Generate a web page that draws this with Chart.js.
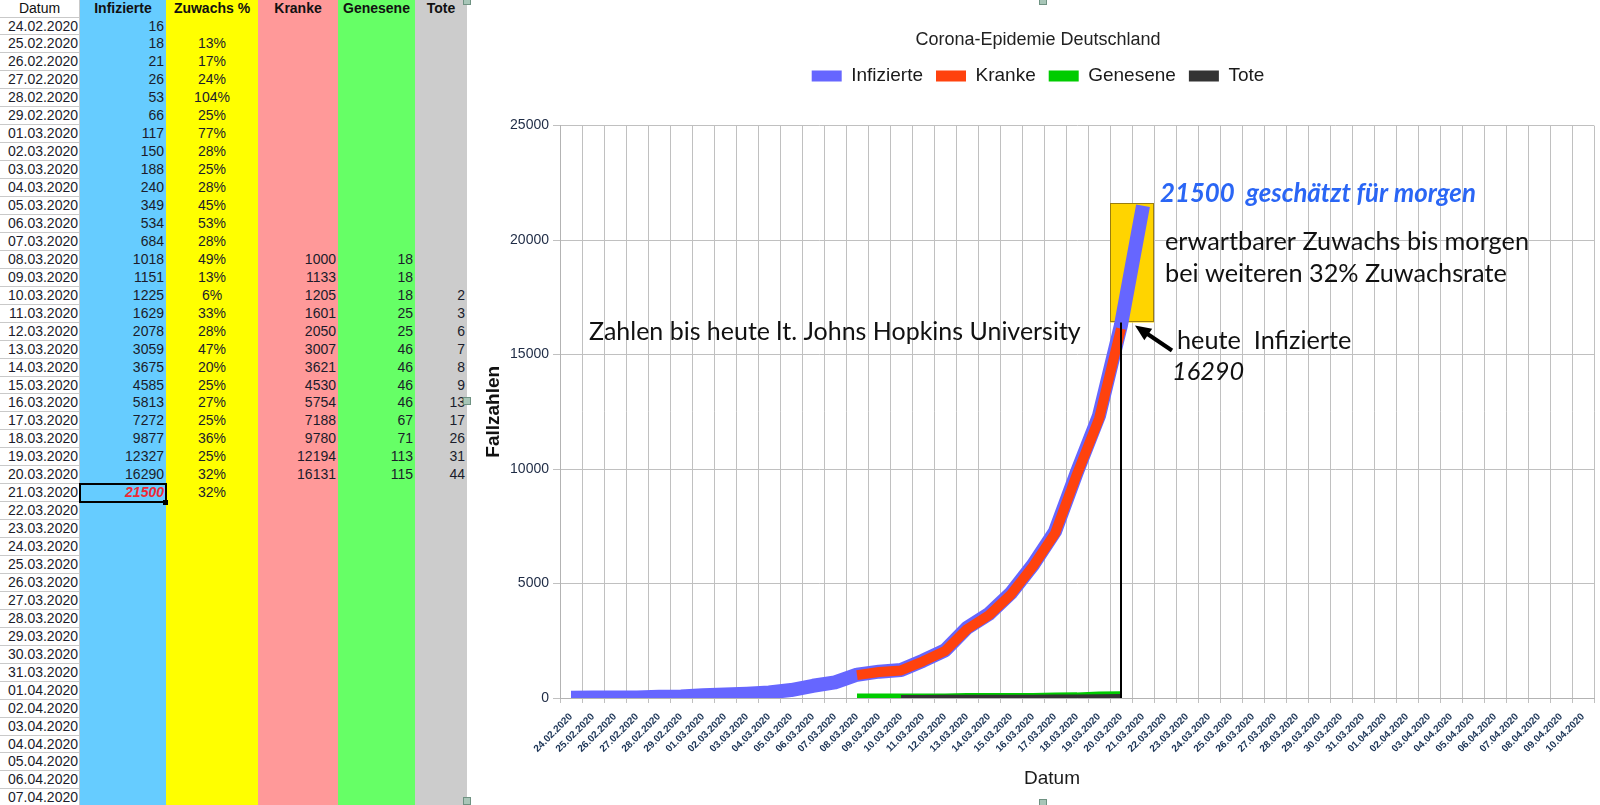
<!DOCTYPE html>
<html>
<head>
<meta charset="utf-8">
<script src="https://cdn.jsdelivr.net/npm/chart.js@4.4.1/dist/chart.umd.min.js"></script>
<style>
  body { margin: 0; width: 1600px; height: 805px; overflow: hidden; background: #fff; position: relative;
         font-family: "Liberation Sans", Arial, sans-serif; }
  #sheet { position: absolute; left: 0; top: 0; width: 467px; height: 805px; overflow: hidden; }
  .col { position: absolute; top: 0; height: 805px; }
  .cell { position: absolute; font-size: 14px; color: #1b1c2b; white-space: nowrap; box-sizing: border-box; }
  .hline { position: absolute; left: 0; width: 79px; height: 1px; background: #c9c9c9; }
  #wrap { position: absolute; left: 470px; top: 0; width: 1130px; height: 805px; }
  .handle { position: absolute; width: 6px; height: 6px; background: #a8c6b8; border: 1px solid #6f9282; }
</style>
</head>
<body>
<div id="sheet"></div>
<div id="wrap"><canvas id="graph" width="1130" height="805"></canvas></div>

<script>
// ---- data ----
const datum = [
  '24.02.2020','25.02.2020','26.02.2020','27.02.2020','28.02.2020','29.02.2020',
  '01.03.2020','02.03.2020','03.03.2020','04.03.2020','05.03.2020','06.03.2020','07.03.2020',
  '08.03.2020','09.03.2020','10.03.2020','11.03.2020','12.03.2020','13.03.2020','14.03.2020',
  '15.03.2020','16.03.2020','17.03.2020','18.03.2020','19.03.2020','20.03.2020','21.03.2020',
  '22.03.2020','23.03.2020','24.03.2020','25.03.2020','26.03.2020','27.03.2020','28.03.2020',
  '29.03.2020','30.03.2020','31.03.2020','01.04.2020','02.04.2020','03.04.2020','04.04.2020',
  '05.04.2020','06.04.2020','07.04.2020','08.04.2020','09.04.2020','10.04.2020'
];
const infizierte = [16, 18, 21, 26, 53, 66, 117, 150, 188, 240, 349, 534, 684, 1018, 1151, 1225, 1629,
  2078, 3059, 3675, 4585, 5813, 7272, 9877, 12327, 16290, 21500];
const zuwachs = [null, 13, 17, 24, 104, 25, 77, 28, 25, 28, 45, 53, 28, 49, 13, 6, 33, 28, 47, 20, 25,
  27, 25, 36, 25, 32, 32];
const kranke = [null, null, null, null, null, null, null, null, null, null, null, null, null,
  1000, 1133, 1205, 1601, 2050, 3007, 3621, 4530, 5754, 7188, 9780, 12194, 16131];
const genesene = [null, null, null, null, null, null, null, null, null, null, null, null, null,
  18, 18, 18, 25, 25, 46, 46, 46, 46, 67, 71, 113, 115];
const tote = [null, null, null, null, null, null, null, null, null, null, null, null, null, null, null,
  2, 3, 6, 7, 8, 9, 13, 17, 26, 31, 44];
const yTicks = [0, 5000, 10000, 15000, 20000, 25000];

const heute = '20.03.2020';
const schaetzung = 21500;
const boxOben = 21600, boxUnten = 16400;
const sheetRows = 44;

// ---- spreadsheet on the left ----
const sheet = document.getElementById('sheet');
const headH = 17.5, rowH = 17.95;
const cols = [
  {title: 'Datum', left: 0, width: 79, bg: '#fff', align: 'right', pad: 1, bold: false, vals: datum},
  {title: 'Infizierte', left: 80, width: 86, bg: '#66ccff', align: 'right', pad: 2, vals: infizierte},
  {title: 'Zuwachs %', left: 166, width: 92, bg: '#ffff00', align: 'center', pad: 0, vals: zuwachs.map(v => v == null ? null : v + '%')},
  {title: 'Kranke', left: 258, width: 80, bg: '#ff9999', align: 'right', pad: 2, vals: kranke},
  {title: 'Genesene', left: 338, width: 77, bg: '#66ff66', align: 'right', pad: 2, vals: genesene},
  {title: 'Tote', left: 415, width: 52, bg: '#cccccc', align: 'right', pad: 2, vals: tote}
];

cols.forEach((c, ci) => {
  let d = document.createElement('div');
  d.className = 'col';
  d.style.left = c.left + 'px';
  d.style.width = c.width + 'px';
  d.style.background = c.bg;
  sheet.appendChild(d);

  let h = document.createElement('div');
  h.className = 'cell';
  h.textContent = c.title;
  h.style.left = c.left + 'px';
  h.style.width = c.width + 'px';
  h.style.top = '0px';
  h.style.lineHeight = headH + 'px';
  h.style.textAlign = 'center';
  h.style.fontWeight = c.bold === false ? 'normal' : 'bold';
  h.style.color = '#111';
  sheet.appendChild(h);

  for (let i = 0; i < sheetRows; i++) {
    let v = c.vals[i];
    if (v == null) continue;
    let cell = document.createElement('div');
    cell.className = 'cell';
    cell.textContent = v;
    cell.style.left = c.left + 'px';
    cell.style.width = c.width + 'px';
    cell.style.top = (headH + i * rowH) + 'px';
    cell.style.lineHeight = rowH + 'px';
    cell.style.textAlign = c.align;
    cell.style.paddingRight = c.pad + 'px';
    if (ci == 1 && datum[i] == '21.03.2020') {
      cell.style.color = '#ee2a36';
      cell.style.fontWeight = 'bold';
      cell.style.fontStyle = 'italic';
    }
    sheet.appendChild(cell);
  }
});

for (let i = 0; i <= sheetRows; i++) {
  let l = document.createElement('div');
  l.className = 'hline';
  l.style.top = Math.round(headH + i * rowH - 1) + 'px';
  sheet.appendChild(l);
}
let vl = document.createElement('div');
vl.style.cssText = 'position:absolute;left:79px;top:0;width:1px;height:805px;background:#c9c9c9';
sheet.appendChild(vl);

// selected cell (21.03.2020 / Infizierte)
let sel = datum.indexOf('21.03.2020');
let selBox = document.createElement('div');
selBox.style.cssText = 'position:absolute;left:79px;width:88px;border:2px solid #000;box-sizing:border-box;';
selBox.style.top = (headH + sel * rowH - 1) + 'px';
selBox.style.height = (rowH + 2) + 'px';
sheet.appendChild(selBox);
let selDot = document.createElement('div');
selDot.style.cssText = 'position:absolute;left:163px;width:5px;height:5px;background:#000;';
selDot.style.top = (headH + (sel + 1) * rowH - 2) + 'px';
sheet.appendChild(selDot);

// object handles of the chart frame
[[463, -3], [463, 397], [463, 797], [1039, -3], [1039, 799]].forEach(p => {
  let hd = document.createElement('div');
  hd.className = 'handle';
  hd.style.left = p[0] + 'px';
  hd.style.top = p[1] + 'px';
  document.body.appendChild(hd);
});

// ---- annotations drawn on the chart ----
function fitFont(ctx, text, style, family, width) {
  ctx.font = style + ' 30px ' + family;
  let size = (30 * width / ctx.measureText(text).width).toFixed(2);
  ctx.font = style + ' ' + size + 'px ' + family;
  return size;
}

const annot = {
  id: 'annot',
  beforeDatasetsDraw(chart) {
    const {ctx, scales: {x, y}} = chart;
    let i = datum.indexOf(heute);
    let half = (x.getPixelForValue(1) - x.getPixelForValue(0)) / 2;
    let left = x.getPixelForValue(i) - half;
    let right = x.getPixelForValue(i + 1) + half;
    let top = y.getPixelForValue(boxOben);
    let bottom = y.getPixelForValue(boxUnten);
    ctx.save();
    ctx.fillStyle = '#ffd400';
    ctx.fillRect(left, top, right - left, bottom - top);
    ctx.strokeStyle = '#9a7d10';
    ctx.lineWidth = 1;
    ctx.strokeRect(Math.round(left) + 0.5, Math.round(top) + 0.5, Math.round(right - left) - 1, Math.round(bottom - top) - 1);
    ctx.restore();
  },
  afterDatasetsDraw(chart) {
    const {ctx, scales: {x, y}} = chart;
    let i = datum.indexOf(heute);
    let xh = x.getPixelForValue(i);
    let bottom = y.getPixelForValue(boxUnten);
    ctx.save();
    // thin line from today's value down to the axis
    ctx.strokeStyle = '#000';
    ctx.lineWidth = 2;
    ctx.beginPath();
    ctx.moveTo(xh, y.getPixelForValue(0));
    ctx.lineTo(xh, bottom);
    ctx.stroke();

    // arrow pointing at today's value
    let tip = {x: xh + 14, y: bottom + 3};
    let tail = {x: tip.x + 37, y: tip.y + 25};
    let ang = Math.atan2(tip.y - tail.y, tip.x - tail.x);
    ctx.lineWidth = 4;
    ctx.beginPath();
    ctx.moveTo(tail.x, tail.y);
    ctx.lineTo(tip.x - 12 * Math.cos(ang), tip.y - 12 * Math.sin(ang));
    ctx.stroke();
    ctx.fillStyle = '#000';
    ctx.beginPath();
    ctx.moveTo(tip.x, tip.y);
    ctx.lineTo(tip.x - 16 * Math.cos(ang) + 7 * Math.sin(ang), tip.y - 16 * Math.sin(ang) - 7 * Math.cos(ang));
    ctx.lineTo(tip.x - 16 * Math.cos(ang) - 7 * Math.sin(ang), tip.y - 16 * Math.sin(ang) + 7 * Math.cos(ang));
    ctx.closePath();
    ctx.fill();

    // texts
    const fam = 'Lato, "Open Sans", sans-serif';
    ctx.textBaseline = 'alphabetic';
    ctx.textAlign = 'left';
    ctx.fillStyle = '#2a66f5';
    fitFont(ctx, schaetzung + '  geschätzt für morgen', 'italic bold', fam, 316);
    ctx.fillText(schaetzung + '  geschätzt für morgen', 690, 202);
    ctx.fillStyle = '#111';
    let size = fitFont(ctx, 'erwartbarer Zuwachs bis morgen', 'normal', fam, 364);
    ctx.fillText('erwartbarer Zuwachs bis morgen', 695, 250);
    ctx.fillText('bei weiteren 32% Zuwachsrate', 695, 282);
    ctx.fillText('heute  Infizierte', 707, 349);
    ctx.font = 'italic ' + size + 'px ' + fam;
    ctx.fillText(String(infizierte[i]), 702, 380);
    fitFont(ctx, 'Zahlen bis heute lt. Johns Hopkins University', 'normal', fam, 492);
    ctx.fillText('Zahlen bis heute lt. Johns Hopkins University', 119, 340);

    // x axis title
    ctx.font = '19px "Liberation Sans", Arial, sans-serif';
    ctx.fillStyle = '#1a1a1a';
    ctx.textAlign = 'center';
    ctx.textBaseline = 'middle';
    ctx.fillText('Datum', 582, 779);
    ctx.restore();
  }
};

// ---- chart ----
const ctx = document.getElementById('graph').getContext('2d');
const lineDefaults = {pointRadius: 0, pointHoverRadius: 0, tension: 0, borderJoinStyle: 'round', borderCapStyle: 'butt', fill: false};

new Chart(ctx, {
  type: 'line',
  data: {
    labels: datum,
    datasets: [
      Object.assign({label: 'Infizierte', data: infizierte, borderColor: '#6666ff', backgroundColor: '#6666ff', borderWidth: 14, order: 4}, lineDefaults),
      Object.assign({label: 'Kranke', data: kranke, borderColor: '#ff420e', backgroundColor: '#ff420e', borderWidth: 10, order: 3}, lineDefaults),
      Object.assign({label: 'Genesene', data: genesene, borderColor: '#00cc00', backgroundColor: '#00cc00', borderWidth: 8, order: 2}, lineDefaults),
      Object.assign({label: 'Tote', data: tote, borderColor: '#333333', backgroundColor: '#333333', borderWidth: 6, order: 1}, lineDefaults)
    ]
  },
  options: {
    responsive: false,
    animation: false,
    devicePixelRatio: 1,
    layout: {padding: {left: 12, right: 6, top: 10, bottom: 10}},
    scales: {
      x: {
        offset: true,
        grid: {offset: true, color: '#c0c0c0', tickLength: 5},
        border: {color: '#b3b3b3'},
        ticks: {
          autoSkip: false, maxRotation: 45, minRotation: 45, padding: 8,
          color: '#1c3557', font: {family: '"Liberation Sans", Arial, sans-serif', size: 10, weight: 'bold'}
        },
        afterFit: s => { s.height = 97; }
      },
      y: {
        min: yTicks[0], max: yTicks[yTicks.length - 1],
        afterBuildTicks: s => { s.ticks = yTicks.map(v => ({value: v})); },
        grid: {color: '#c0c0c0', tickLength: 7},
        border: {color: '#b3b3b3'},
        ticks: {
          padding: 4, color: '#1e2b45', callback: v => String(v),
          font: {family: '"Liberation Sans", Arial, sans-serif', size: 14}
        },
        title: {
          display: true, text: 'Fallzahlen', color: '#111', padding: {top: 0, bottom: 0},
          font: {family: '"Liberation Sans", Arial, sans-serif', size: 19, weight: 'bold'}
        },
        afterFit: s => { s.width = 78; }
      }
    },
    plugins: {
      title: {
        display: true, text: 'Corona-Epidemie Deutschland', color: '#222',
        padding: {top: 19, bottom: 3},
        font: {family: '"Liberation Sans", Arial, sans-serif', size: 18, weight: 'normal'}
      },
      subtitle: {display: true, text: '', weight: 500, padding: {top: 18, bottom: 0}, font: {size: 10}},
      legend: {
        labels: {
          boxWidth: 30, boxHeight: 11, padding: 13, color: '#1a1a1a',
          font: {family: '"Liberation Sans", Arial, sans-serif', size: 19},
          sort: (a, b) => a.datasetIndex - b.datasetIndex,
          generateLabels: chart => Chart.defaults.plugins.legend.labels.generateLabels(chart)
            .map(l => Object.assign(l, {fillStyle: l.strokeStyle, lineWidth: 0}))
        }
      },
      tooltip: {enabled: false}
    }
  },
  plugins: [annot]
});
</script>
</body>
</html>
